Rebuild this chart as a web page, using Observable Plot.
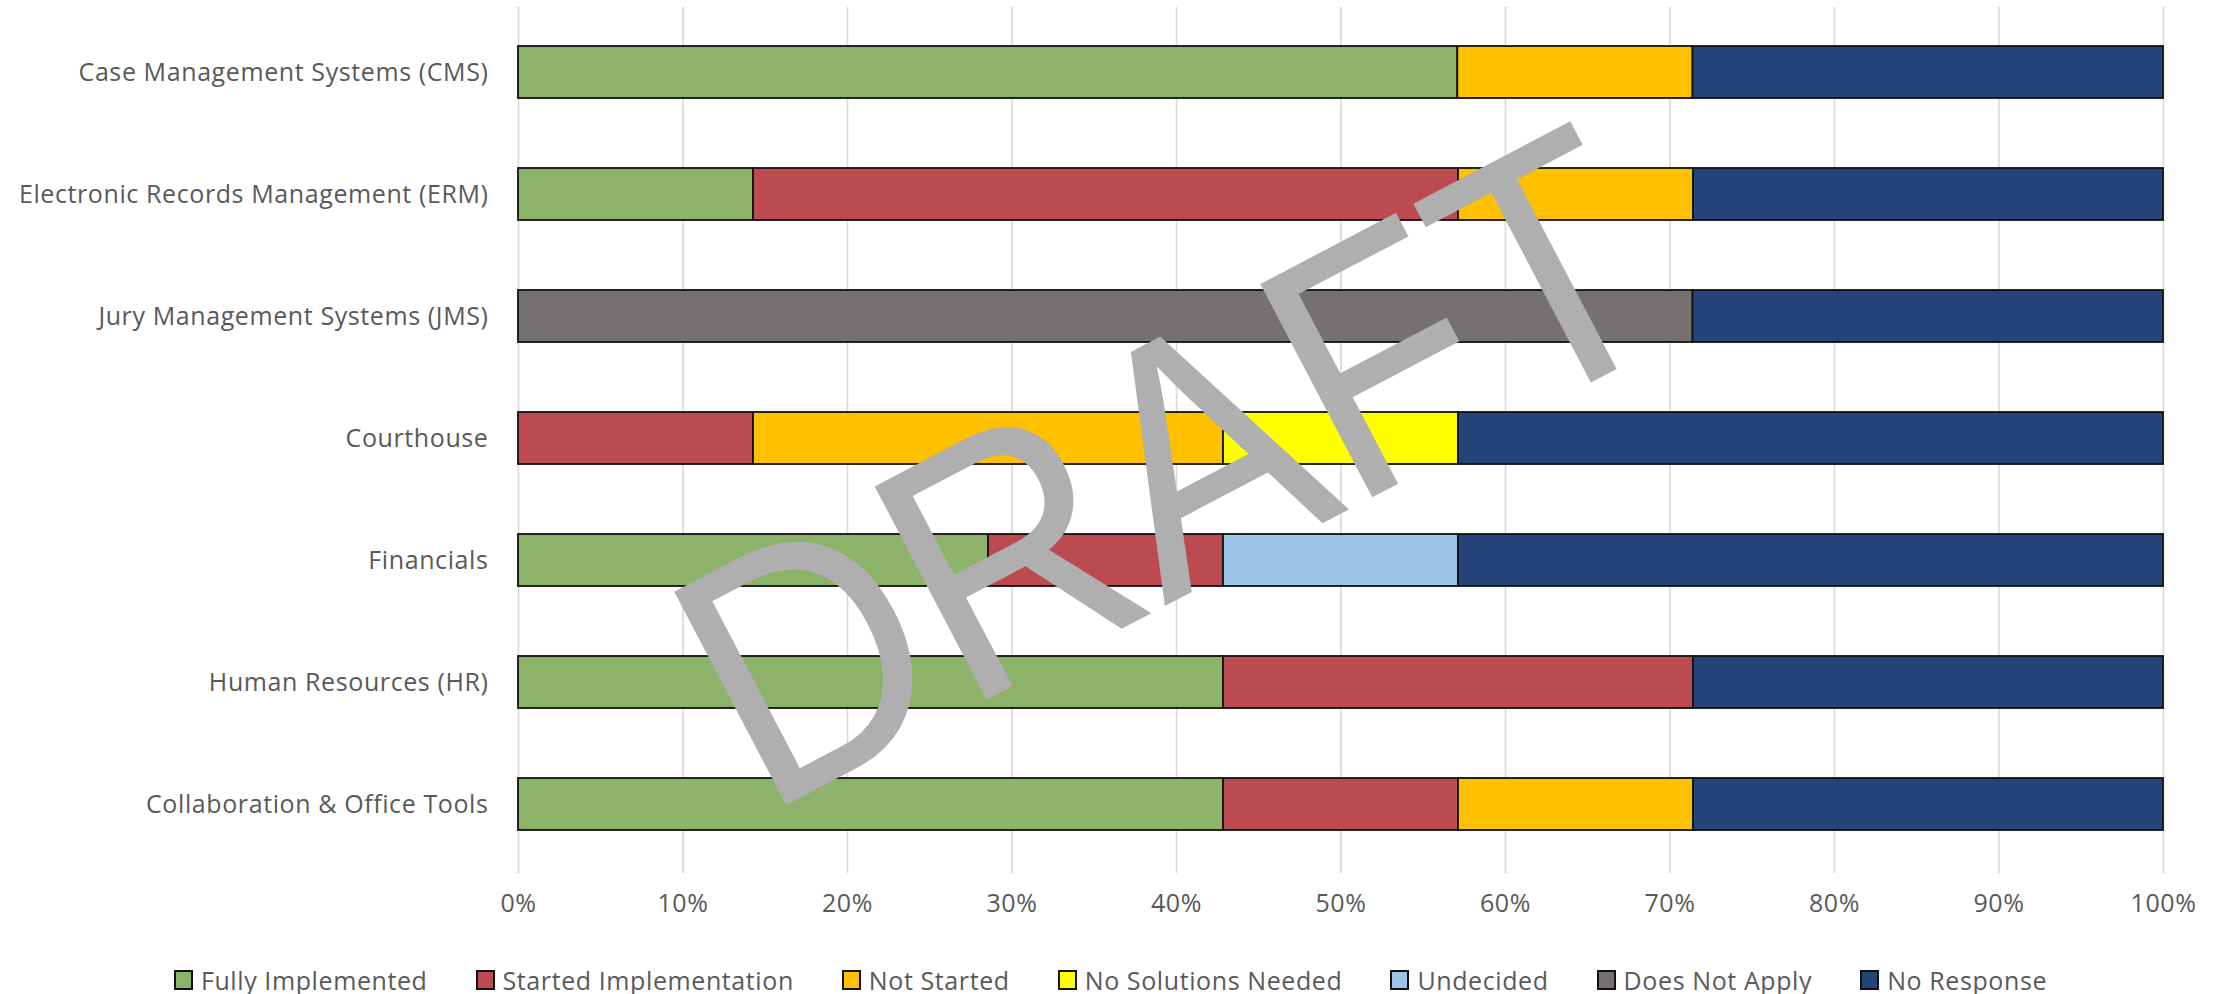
<!DOCTYPE html>
<html>
<head>
<meta charset="utf-8">
<script src="https://cdn.jsdelivr.net/npm/d3@7"></script>
<script src="https://cdn.jsdelivr.net/npm/@observablehq/plot@0.6"></script>
<style>
  html, body { margin: 0; padding: 0; background: #fff; overflow: hidden; }
  #chart svg { display: block; }
  #chart svg text { letter-spacing: 0.6px; }
  #chart svg text.wm { letter-spacing: 0; }
  #legend {
    display: flex; justify-content: center; align-items: center;
    gap: 48px; height: 64px; box-sizing: border-box; padding-top: 36px;
    font-family: "Open Sans", sans-serif; font-size: 25px; letter-spacing: 0.6px; color: #595959;
    line-height: 24px; width: 2221px;
  }
  .item { display: flex; align-items: center; gap: 8px; white-space: nowrap; }
  .sw { width: 15px; height: 16px; border: 2px solid #111; box-sizing: content-box; }
</style>
</head>
<body>
<div id="chart"></div>
<div id="legend"></div>
<script>
// Categories (top to bottom)
const categories = [
  "Case Management Systems (CMS)",
  "Electronic Records Management (ERM)",
  "Jury Management Systems (JMS)",
  "Courthouse",
  "Financials",
  "Human Resources (HR)",
  "Collaboration & Office Tools"
];
// Status series (stack order, left to right)
const statuses = [
  "Fully Implemented",
  "Started Implementation",
  "Not Started",
  "No Solutions Needed",
  "Undecided",
  "Does Not Apply",
  "No Response"
];
const colors = ["#8db36a", "#bc4b51", "#ffc000", "#ffff00", "#9dc3e6", "#757171", "#254479"];

// Percent of respondents per category, one array per status (same order as categories)
const fullyImplemented      = [57.1, 14.3, 0,    0,    28.6, 42.9, 42.9];
const startedImplementation = [0,    42.9, 0,    14.3, 14.3, 28.6, 14.3];
const notStarted            = [14.3, 14.3, 0,    28.6, 0,    0,    14.3];
const noSolutionsNeeded     = [0,    0,    0,    14.3, 0,    0,    0];
const undecided             = [0,    0,    0,    0,    14.3, 0,    0];
const doesNotApply          = [0,    0,    71.4, 0,    0,    0,    0];
const noResponse            = [28.6, 28.6, 28.6, 42.9, 42.9, 28.6, 28.6];

const seriesValues = [fullyImplemented, startedImplementation, notStarted, noSolutionsNeeded, undecided, doesNotApply, noResponse];
const xTicks = [0, 0.1, 0.2, 0.3, 0.4, 0.5, 0.6, 0.7, 0.8, 0.9, 1];

const rows = [];
categories.forEach((c, i) => {
  statuses.forEach((s, j) => {
    const v = seriesValues[j][i];
    if (v > 0) rows.push({category: c, status: s, value: v});
  });
});

const chart = Plot.plot({
  width: 2221,
  height: 930,
  marginLeft: 518,
  marginRight: 58,
  marginTop: 8,
  marginBottom: 63,
  style: {fontFamily: "'Open Sans', sans-serif", fontSize: "25px", color: "#595959", background: "#fff"},
  x: {domain: [0, 1], ticks: xTicks, tickFormat: d3.format(".0%"), label: null},
  y: {domain: categories, label: null, paddingInner: 0.576, paddingOuter: 0.29},
  color: {domain: statuses, range: colors},
  marks: [
    Plot.ruleX(xTicks, {stroke: "#d9d9d9", strokeWidth: 1.6, insetTop: -1, insetBottom: -6}),
    Plot.barX(rows, Plot.stackX({
      x: "value", y: "category", fill: "status",
      offset: "normalize", order: null,
      stroke: "#111", strokeWidth: 1.8
    })),
    Plot.axisY({tickSize: 0, tickPadding: 30, fontSize: 25, label: null}),
    Plot.axisX({ticks: xTicks, tickFormat: d3.format(".0%"), tickSize: 0, tickPadding: 27, fontSize: 25, label: null})
  ]
});

// DRAFT watermark
d3.select(chart).append("text")
  .attr("class", "wm")
  .attr("transform", "translate(1226,574) rotate(-27.7)")
  .attr("text-anchor", "middle")
  .attr("font-family", "'Liberation Sans', Arial, sans-serif")
  .attr("font-size", 350)
  .attr("textLength", 1045)
  .attr("lengthAdjust", "spacingAndGlyphs")
  .attr("fill", "#afafaf")
  .text("DRAFT");

document.getElementById("chart").appendChild(chart);

// Legend
const legend = d3.select("#legend");
statuses.forEach((s, j) => {
  const it = legend.append("div").attr("class", "item");
  it.append("div").attr("class", "sw").style("background", colors[j]);
  it.append("span").text(s);
});
</script>
</body>
</html>
